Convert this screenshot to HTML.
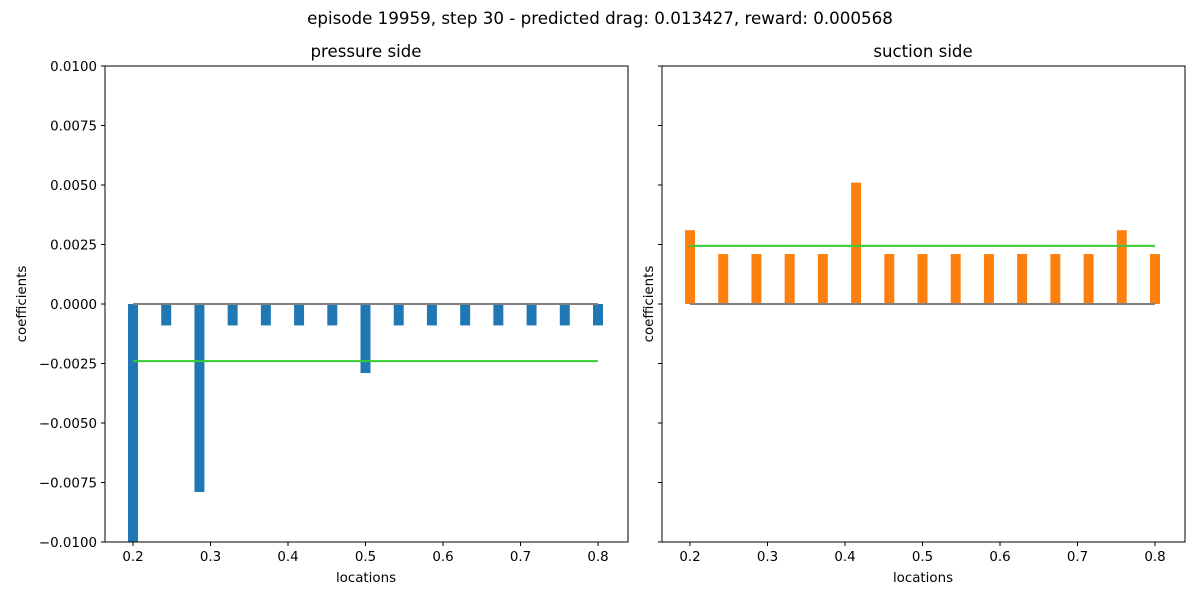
<!DOCTYPE html>
<html><head><meta charset="utf-8"><style>
body{margin:0;background:#fff;font-family:"Liberation Sans","DejaVu Sans",sans-serif}
svg text{font-family:"DejaVu Sans","Liberation Sans",sans-serif;fill:#000}
</style></head><body>
<svg id="fig" width="1200" height="600" xmlns="http://www.w3.org/2000/svg">
<text x="600" y="24" font-size="16.7" text-anchor="middle">episode 19959, step 30 - predicted drag: 0.013427, reward: 0.000568</text>
</svg>
<script>
const locations=[0.2,0.242857,0.285714,0.328571,0.371429,0.414286,0.457143,0.5,0.542857,0.585714,0.628571,0.671429,0.714286,0.757143,0.8];
const pressureValues=[-0.01,-0.0009,-0.0079,-0.0009,-0.0009,-0.0009,-0.0009,-0.0029,-0.0009,-0.0009,-0.0009,-0.0009,-0.0009,-0.0009,-0.0009];
const suctionValues=[0.0031,0.0021,0.0021,0.0021,0.0021,0.0051,0.0021,0.0021,0.0021,0.0021,0.0021,0.0021,0.0021,0.0031,0.0021];
const pressureMean=[-0.0024];
const suctionMean=[0.00244];
const yTicks=[-0.01,-0.0075,-0.005,-0.0025,0,0.0025,0.005,0.0075,0.01];
const yTickLabels=["\u22120.0100","\u22120.0075","\u22120.0050","\u22120.0025","0.0000","0.0025","0.0050","0.0075","0.0100"];
const xTicks=[0.2,0.3,0.4,0.5,0.6,0.7,0.8];
const xTickLabels=["0.2","0.3","0.4","0.5","0.6","0.7","0.8"];
const NS="http://www.w3.org/2000/svg";
const svg=document.getElementById('fig');
function mk(tag,attrs,parent){const e=document.createElementNS(NS,tag);for(const k in attrs)e.setAttribute(k,attrs[k]);(parent||svg).appendChild(e);return e;}
function panel(x0,title,vals,mean,color,showYLabels,key){
  const x1=x0+523,y0=66,y1=542;
  const g=mk('g',{});
  
  
  const xs=v=>x0+28+(v-0.2)*775;
  const ys=v=>304-v*23800;
  const bw=0.6/14*0.3*775;
  vals.forEach((v,i)=>{
    const r=mk('rect',{x:xs(locations[i])-bw/2,y:Math.min(ys(v),ys(0)),width:bw,height:Math.abs(ys(v)-ys(0)),fill:color},g);
    
    
  });
  const z=mk('line',{x1:xs(0.2),x2:xs(0.8),y1:ys(0),y2:ys(0),stroke:'#808080','stroke-width':2},g);
  
  
  const m=mk('line',{x1:xs(0.2),x2:xs(0.8),y1:ys(mean[0]),y2:ys(mean[0]),stroke:'#32cd32','stroke-width':2},g);
  
  
  mk('rect',{x:x0,y:y0,width:523,height:476,fill:'none',stroke:'#000','stroke-width':1},g);
  xTicks.forEach((t,i)=>{
    mk('line',{x1:xs(t),x2:xs(t),y1:y1,y2:y1+4,stroke:'#000'},g);
    const tx=mk('text',{x:xs(t),y:y1+19,'font-size':13.4,'text-anchor':'middle'},g);tx.textContent=xTickLabels[i];
    
    
  });
  yTicks.forEach((t,i)=>{
    mk('line',{x1:x0-4,x2:x0,y1:ys(t),y2:ys(t),stroke:'#000'},g);
    if(showYLabels){const tx=mk('text',{x:x0-8,y:ys(t)+5,'font-size':13.4,'text-anchor':'end'},g);tx.textContent=yTickLabels[i];
      
      }
  });
  const tt=mk('text',{x:x0+261,y:57,'font-size':16.6,'text-anchor':'middle'},g);tt.textContent=title;
  
  
  const xl=mk('text',{x:x0+261,y:582,'font-size':13.4,'text-anchor':'middle'},g);xl.textContent='locations';
  
  
  const ylx=showYLabels?26:653;
  const yl=mk('text',{x:ylx,y:304,'font-size':13.4,'text-anchor':'middle',transform:`rotate(-90 ${ylx} 304)`},g);yl.textContent='coefficients';
  
  
}
panel(105,'pressure side',pressureValues,pressureMean,'#1f77b4',true,'pressure');
panel(662,'suction side',suctionValues,suctionMean,'#ff7f0e',false,'suction');
</script>
</body></html>
